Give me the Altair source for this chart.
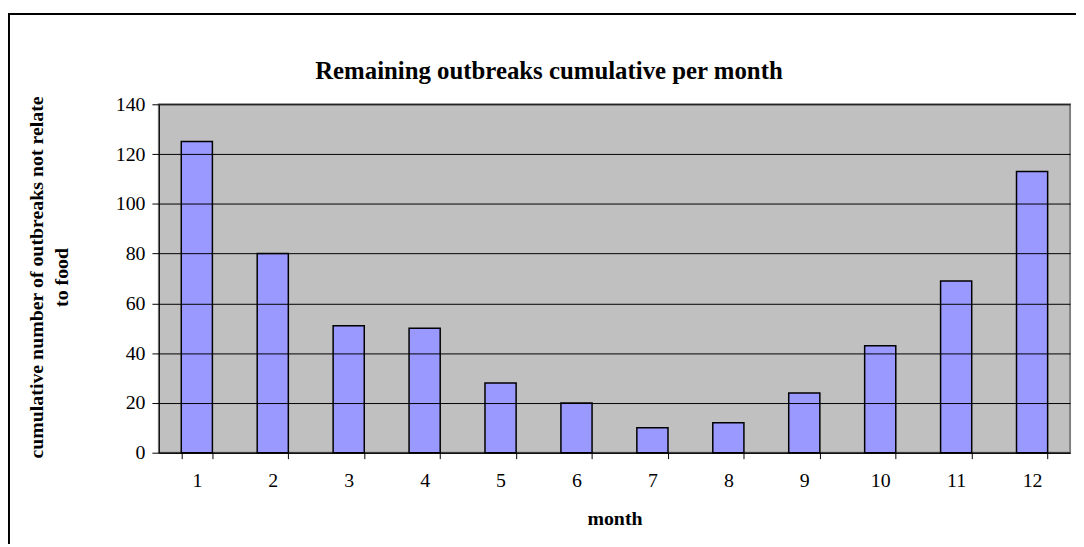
import altair as alt
import pandas as pd

months = [str(m) for m in range(1, 13)]
counts = [125, 80, 51, 50, 28, 20, 10, 12, 24, 43, 69, 113]
y_ticks = [0, 20, 40, 60, 80, 100, 120, 140]

df = pd.DataFrame({"month": months, "count": counts})

FONT = "Liberation Serif"

frame = alt.Chart(df).mark_rect(
    fill=None, stroke="black", strokeWidth=1.5, clip=False
).encode(
    x=alt.value(-151.5), x2=alt.value(1000),
    y=alt.value(-91), y2=alt.value(700)
)

bars = alt.Chart(df).mark_bar(
    color="#9999FF", stroke="black", strokeWidth=1.5
).encode(
    x=alt.X(
        "month:N", sort=months,
        scale=alt.Scale(paddingInner=0.59, paddingOuter=0.295),
        axis=alt.Axis(
            title="month", labelAngle=0, tickBand="extent",
            tickSize=6, tickColor="black", domainColor="black",
            labelFont=FONT, labelFontSize=20, labelColor="black", labelPadding=12,
            titleFont=FONT, titleFontSize=20, titleFontWeight="bold", titleColor="black",
            titleY=66, titleBaseline="middle", zindex=1,
        ),
    ),
    y=alt.Y(
        "count:Q",
        scale=alt.Scale(domain=[0, 140], nice=False),
        axis=alt.Axis(
            values=y_ticks,
            title=["cumulative number of outbreaks not relate", "to food"],
            grid=True, gridColor="black", gridWidth=1,
            tickSize=7, tickColor="black", domainColor="black",
            labelFont=FONT, labelFontSize=20, labelColor="black", labelPadding=7,
            titleFont=FONT, titleFontSize=20, titleFontWeight="bold", titleColor="black",
            titleAngle=-90, titleX=-123, titleY=174, titleAlign="center",
            titleBaseline="middle", titleLineHeight=25, zindex=1,
        ),
    ),
)

chart = alt.layer(frame, bars).properties(
    width=918, height=351,
    autosize=alt.AutoSizeParams(type="none"),
    padding={"left": 152, "top": 95, "right": 6, "bottom": 90},
    title=alt.TitleParams(
        "Remaining outbreaks cumulative per month",
        font=FONT, fontSize=25, fontWeight="bold", color="black",
        anchor="middle", frame="group", dx=-66, offset=-91, baseline="alphabetic",
    ),
).configure_view(
    fill="#C0C0C0", stroke="#808080", strokeWidth=2
)

chart.save("out.html", embed_options={"renderer": "svg", "actions": False})
